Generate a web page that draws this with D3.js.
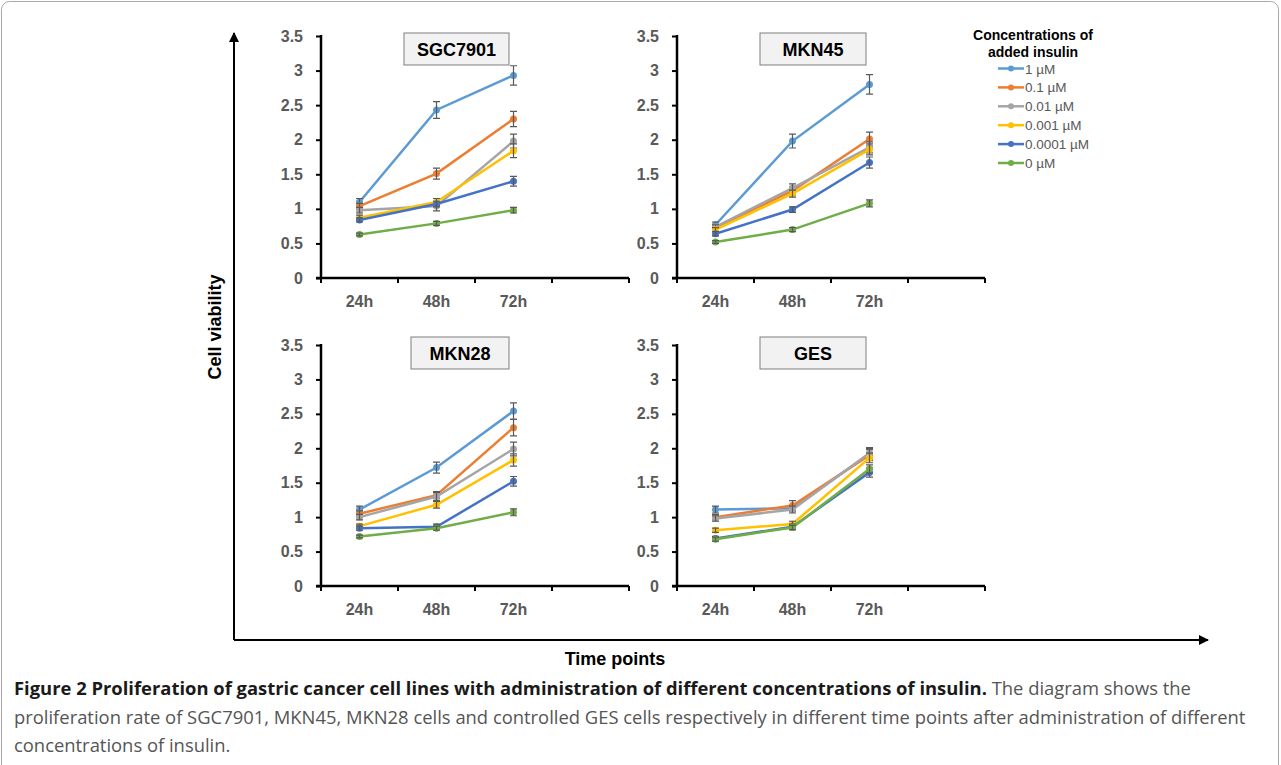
<!DOCTYPE html>
<html>
<head>
<meta charset="utf-8">
<script src="https://cdn.jsdelivr.net/npm/d3@7"></script>
<style>
  body { margin: 0; background: #fff; }
  svg { display: block; }
</style>
</head>
<body>
<svg id="chart" width="1281" height="765"></svg>
<script>
// categories
var times = ["24h", "48h", "72h"];
var concentrations = ["1 \u00b5M", "0.1 \u00b5M", "0.01 \u00b5M", "0.001 \u00b5M", "0.0001 \u00b5M", "0 \u00b5M"];
var seriesColors = ["#5b9bd5", "#ed7d31", "#a5a5a5", "#ffc000", "#4472c4", "#70ad47"];
var yTicks = [0, 0.5, 1, 1.5, 2, 2.5, 3, 3.5];

// one row per concentration, one value per time point
var sgc7901 = [
  [1.10, 2.43, 2.93],
  [1.04, 1.51, 2.30],
  [0.98, 1.04, 1.98],
  [0.87, 1.10, 1.84],
  [0.84, 1.07, 1.40],
  [0.63, 0.79, 0.98]
];
var sgc7901Err = [
  [0.05, 0.12, 0.14],
  [0.04, 0.08, 0.11],
  [0.04, 0.07, 0.10],
  [0.04, 0.05, 0.10],
  [0.03, 0.04, 0.07],
  [0.02, 0.03, 0.04]
];
var mkn45 = [
  [0.77, 1.98, 2.80],
  [0.73, 1.26, 2.01],
  [0.74, 1.30, 1.89],
  [0.70, 1.22, 1.86],
  [0.64, 0.99, 1.67],
  [0.52, 0.70, 1.08]
];
var mkn45Err = [
  [0.04, 0.10, 0.14],
  [0.03, 0.06, 0.10],
  [0.03, 0.06, 0.08],
  [0.03, 0.05, 0.08],
  [0.03, 0.04, 0.08],
  [0.02, 0.03, 0.05]
];
var mkn28 = [
  [1.11, 1.72, 2.54],
  [1.05, 1.32, 2.30],
  [1.00, 1.30, 1.99],
  [0.87, 1.18, 1.83],
  [0.84, 0.86, 1.52],
  [0.72, 0.84, 1.07]
];
var mkn28Err = [
  [0.05, 0.08, 0.12],
  [0.04, 0.05, 0.12],
  [0.04, 0.06, 0.10],
  [0.03, 0.05, 0.09],
  [0.03, 0.04, 0.07],
  [0.02, 0.03, 0.05]
];
var ges = [
  [1.11, 1.13, 1.92],
  [1.00, 1.17, 1.90],
  [0.98, 1.11, 1.93],
  [0.81, 0.90, 1.86],
  [0.69, 0.86, 1.65],
  [0.68, 0.85, 1.70]
];
var gesErr = [
  [0.05, 0.05, 0.08],
  [0.04, 0.07, 0.08],
  [0.04, 0.05, 0.08],
  [0.03, 0.04, 0.07],
  [0.03, 0.04, 0.07],
  [0.03, 0.03, 0.06]
];

var captionLines = [
  "The diagram shows the",
  "proliferation rate of SGC7901, MKN45, MKN28 cells and controlled GES cells respectively in different time points after administration of different",
  "concentrations of insulin."
];
var captionBold = "Figure 2 Proliferation of gastric cancer cell lines with administration of different concentrations of insulin.";

var svg = d3.select("#chart");
var chartFont = "'Liberation Sans', Arial, sans-serif";

svg.append("rect").attr("width", 1281).attr("height", 765).attr("fill", "#fff");

// page frame
svg.append("rect")
  .attr("x", 1.5).attr("y", 1.5)
  .attr("width", 1277).attr("height", 820)
  .attr("rx", 8)
  .attr("fill", "none")
  .attr("stroke", "#a8a8a8");

// big L axis with arrows
var defs = svg.append("defs");
defs.append("marker")
  .attr("id", "arrow")
  .attr("viewBox", "0 0 10 10")
  .attr("refX", 9).attr("refY", 5)
  .attr("markerWidth", 5).attr("markerHeight", 5)
  .attr("orient", "auto")
  .append("path").attr("d", "M0,0 L10,5 L0,10 z").attr("fill", "#000");

svg.append("path")
  .attr("d", "M234,640 L234,33")
  .attr("stroke", "#000").attr("stroke-width", 2).attr("fill", "none")
  .attr("marker-end", "url(#arrow)");
svg.append("path")
  .attr("d", "M234,640 L1208,640")
  .attr("stroke", "#000").attr("stroke-width", 2).attr("fill", "none")
  .attr("marker-end", "url(#arrow)");

svg.append("text")
  .attr("transform", "translate(221,327) rotate(-90)")
  .attr("text-anchor", "middle")
  .attr("font-family", chartFont).attr("font-weight", "bold").attr("font-size", 18)
  .text("Cell viability");
svg.append("text")
  .attr("x", 615).attr("y", 665)
  .attr("text-anchor", "middle")
  .attr("font-family", chartFont).attr("font-weight", "bold").attr("font-size", 18)
  .text("Time points");

var panels = [
  {name: "SGC7901", values: sgc7901, err: sgc7901Err, left: 321, top: 36, bottom: 278, boxX: 404, boxY: 33, boxW: 105},
  {name: "MKN45", values: mkn45, err: mkn45Err, left: 677, top: 36, bottom: 278, boxX: 760, boxY: 33, boxW: 106},
  {name: "MKN28", values: mkn28, err: mkn28Err, left: 321, top: 345, bottom: 586, boxX: 411, boxY: 337, boxW: 98},
  {name: "GES", values: ges, err: gesErr, left: 677, top: 345, bottom: 586, boxX: 760, boxY: 337, boxW: 106}
];

var plotWidth = 308;

panels.forEach(function(p) {
  var g = svg.append("g");
  var x = d3.scaleBand().domain(times.concat([""])).range([p.left, p.left + plotWidth]);
  var y = d3.scaleLinear().domain([0, 3.5]).range([p.bottom, p.top]);

  // y axis
  var ya = g.append("g")
    .attr("transform", "translate(" + p.left + ",0)")
    .call(d3.axisLeft(y).tickValues(yTicks).tickSize(5).tickPadding(13).tickFormat(function(d) { return d; }));
  ya.select(".domain").remove();
  ya.selectAll("line").attr("stroke", "#000").attr("stroke-width", 2);
  ya.selectAll("text")
    .attr("font-family", chartFont).attr("font-weight", "bold").attr("font-size", 16)
    .attr("fill", "#595959");
  g.append("line")
    .attr("x1", p.left).attr("x2", p.left)
    .attr("y1", p.top - 1).attr("y2", p.bottom)
    .attr("stroke", "#000").attr("stroke-width", 2.5);

  // x axis: labels at band centres, ticks at band edges
  var xa = g.append("g")
    .attr("transform", "translate(0," + p.bottom + ")")
    .call(d3.axisBottom(x).tickSize(0).tickPadding(18));
  xa.select(".domain").remove();
  xa.selectAll("text")
    .attr("font-family", chartFont).attr("font-weight", "bold").attr("font-size", 16)
    .attr("fill", "#595959");
  var edges = x.domain().map(function(d) { return x(d); }).concat([x.range()[1]]);
  g.selectAll(".xedge").data(edges).enter().append("line")
    .attr("x1", function(d) { return d; }).attr("x2", function(d) { return d; })
    .attr("y1", p.bottom).attr("y2", p.bottom + 5)
    .attr("stroke", "#000").attr("stroke-width", 2);
  g.append("line")
    .attr("x1", p.left - 5).attr("x2", p.left + plotWidth)
    .attr("y1", p.bottom).attr("y2", p.bottom)
    .attr("stroke", "#000").attr("stroke-width", 2.5);

  // title box
  g.append("rect")
    .attr("x", p.boxX).attr("y", p.boxY)
    .attr("width", p.boxW).attr("height", 32)
    .attr("fill", "#f2f2f2").attr("stroke", "#7f7f7f").attr("stroke-width", 1);
  g.append("text")
    .attr("x", p.boxX + p.boxW / 2).attr("y", p.boxY + 23)
    .attr("text-anchor", "middle")
    .attr("font-family", chartFont).attr("font-weight", "bold").attr("font-size", 18)
    .attr("fill", "#000")
    .text(p.name);

  var cx = function(i) { return x(times[i]) + x.bandwidth() / 2; };
  var line = d3.line()
    .x(function(d, i) { return cx(i); })
    .y(function(d) { return y(d); });

  p.values.forEach(function(vals, s) {
    var sg = g.append("g");
    sg.append("path")
      .attr("d", line(vals))
      .attr("fill", "none")
      .attr("stroke", seriesColors[s]).attr("stroke-width", 2.5);
    sg.selectAll("circle").data(vals).enter().append("circle")
      .attr("cx", function(d, i) { return cx(i); })
      .attr("cy", function(d) { return y(d); })
      .attr("r", 3.5)
      .attr("fill", seriesColors[s]);
    // error bars
    vals.forEach(function(v, i) {
      var e = p.err[s][i];
      var xx = cx(i);
      sg.append("path")
        .attr("d", "M" + (xx - 3.5) + "," + y(v + e) + "H" + (xx + 3.5) +
                   "M" + xx + "," + y(v + e) + "V" + y(v - e) +
                   "M" + (xx - 3.5) + "," + y(v - e) + "H" + (xx + 3.5))
        .attr("fill", "none")
        .attr("stroke", "#595959").attr("stroke-width", 1.2);
    });
  });
});

// legend
var legend = svg.append("g");
legend.append("text")
  .attr("x", 1033).attr("y", 40)
  .attr("text-anchor", "middle")
  .attr("font-family", chartFont).attr("font-weight", "bold").attr("font-size", 14)
  .text("Concentrations of");
legend.append("text")
  .attr("x", 1033).attr("y", 57)
  .attr("text-anchor", "middle")
  .attr("font-family", chartFont).attr("font-weight", "bold").attr("font-size", 14)
  .text("added insulin");

var ly = d3.scalePoint().domain(concentrations).range([68.5, 163]);
var items = legend.selectAll(".item").data(concentrations).enter().append("g")
  .attr("transform", function(d) { return "translate(0," + ly(d) + ")"; });
items.append("line")
  .attr("x1", 998).attr("x2", 1024)
  .attr("stroke", function(d, i) { return seriesColors[i]; })
  .attr("stroke-width", 2.5);
items.append("circle")
  .attr("cx", 1011).attr("r", 3)
  .attr("fill", function(d, i) { return seriesColors[i]; });
items.append("text")
  .attr("x", 1025).attr("y", 5)
  .attr("font-family", chartFont).attr("font-size", 13.5)
  .attr("fill", "#595959")
  .text(function(d) { return d; });

// caption
var capFont = "'Open Sans', 'Noto Sans', sans-serif";
var capSize = 18.4;
var cap1 = svg.append("text")
  .attr("x", 14).attr("y", 695)
  .attr("font-family", capFont).attr("font-size", capSize);
cap1.append("tspan").attr("font-weight", "bold").attr("fill", "#1a1a1a").text(captionBold + " ");
cap1.append("tspan").attr("fill", "#555").text(captionLines[0]);
svg.append("text")
  .attr("x", 14).attr("y", 724)
  .attr("font-family", capFont).attr("font-size", capSize).attr("fill", "#555")
  .text(captionLines[1]);
svg.append("text")
  .attr("x", 14).attr("y", 752)
  .attr("font-family", capFont).attr("font-size", capSize).attr("fill", "#555")
  .text(captionLines[2]);
</script>
</body>
</html>
